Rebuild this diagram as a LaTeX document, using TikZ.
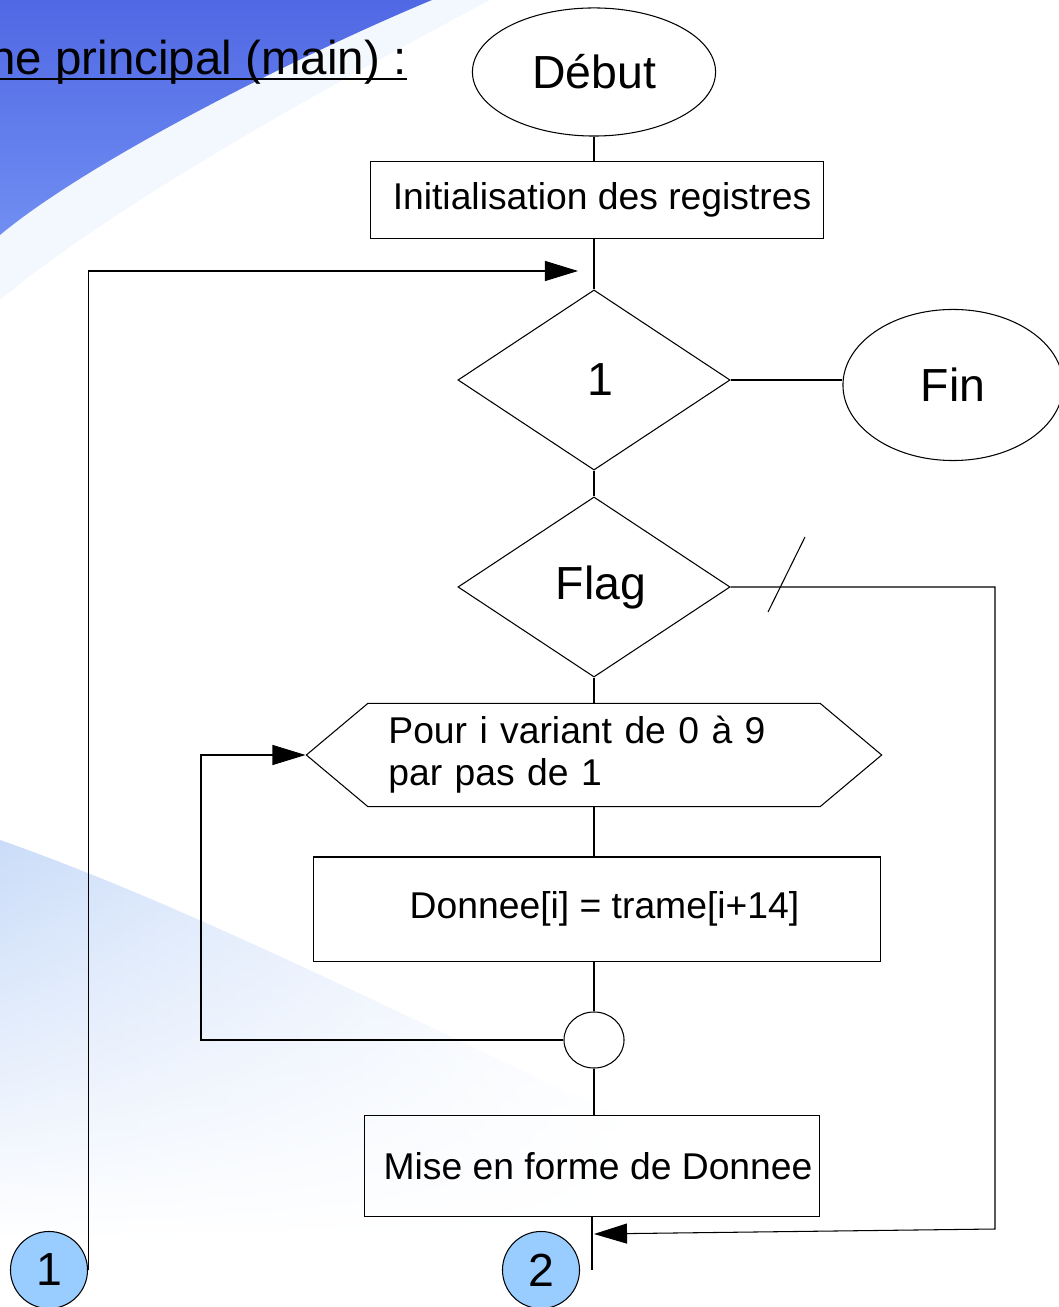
\documentclass[tikz,border=0pt]{standalone}
\usepackage{fontspec}
\setmainfont{Liberation Sans}
\usetikzlibrary{shapes.geometric,shapes.symbols,arrows.meta,positioning,fadings}

\definecolor{fondbleu}{RGB}{80,104,228}
\definecolor{fondmoyen}{RGB}{112,142,242}
\definecolor{fondclair}{RGB}{196,216,248}
\definecolor{renvoibleu}{RGB}{153,204,255}

\tikzfading[name=fondbas, top color=transparent!10, middle color=transparent!25, bottom color=transparent!100]

\begin{document}
\begin{tikzpicture}[x=0.01cm, y=-0.01cm, line width=0.3pt,
  petit/.style={font=\fontsize{10.6}{11.9}\selectfont},
  grand/.style={font=\fontsize{13.2}{15.8}\selectfont},
  boite/.style={rectangle, draw, petit, inner sep=0pt},
  test/.style={diamond, draw, grand, inner sep=0pt, minimum width=2.72cm, minimum height=1.8cm},
  bout/.style={ellipse, draw, grand, inner sep=0pt},
  renvoi/.style={circle, draw, fill=renvoibleu, grand, inner sep=0pt, minimum size=0.77cm},
  fleche/.style={-{Triangle[length=3.3mm, width=2mm]}}]

\useasboundingbox (0,0) rectangle (1058,1307);

% fond de la diapo
\fill[fondclair, opacity=0.2]
  (0,235) .. controls (90,160) and (300,55) .. (432,0) -- (490,0)
  .. controls (340,80) and (120,200) .. (0,300) -- cycle;
\shade[top color=fondbleu, bottom color=fondmoyen]
  (0,0) -- (432,0) .. controls (300,55) and (90,160) .. (0,235) -- cycle;
\shade[left color=fondclair, right color=white, path fading=fondbas]
  (0,840) .. controls (200,910) and (430,1030) .. (640,1125) -- (640,1240) -- (0,1240) -- cycle;

\node[font=\fontsize{13.5}{16}\selectfont, anchor=base east, inner sep=0pt] (titre) at (407,75) {ne principal (main) :};
\draw[line width=0.6pt] ([yshift=-0.04cm]titre.base west) -- ([yshift=-0.04cm]titre.base east);

\node[bout, minimum width=2.43cm, minimum height=1.28cm] (debut) at (594,72) {Début};
\node[boite, minimum width=4.53cm, minimum height=0.77cm] (init) at (597,200) {\hspace{0.1cm}Initialisation des registres};
\node[test] (un) at (594,380) {\hspace{0.12cm}1};
\node[bout, minimum width=2.2cm, minimum height=1.51cm] (fin) at (953,385) {Fin};
\node[test] (flag) at (594,587) {\hspace{0.14cm}Flag};
\node[signal, signal to=east and west, signal pointer angle=80, draw, petit, inner sep=0pt,
  text width=4.11cm, align=left, minimum width=5.75cm, minimum height=1.03cm] (boucle) at (594,755)
  {Pour i variant de 0 à 9\\par pas de 1};
\node[boite, minimum width=5.67cm, minimum height=1.04cm] (donnee) at (597,909) {\hspace{0.15cm}Donnee[i] = trame[i+14]};
\node[ellipse, draw, minimum width=0.6cm, minimum height=0.56cm] (jonction) at (594,1040) {};
\node[boite, minimum width=4.54cm, minimum height=1.01cm] (mise) at (592,1166) {\hspace{0.12cm}Mise en forme de Donnee};

\node[renvoi] (renvoiA) at (49,1270) {1};
\node[renvoi] (renvoiB) at (541,1270) {2};

\coordinate (entree) at (578,271);
\coordinate (coin) at (201,1040);
\coordinate (rcoin) at (995,1229);
\coordinate (retour) at (594,1234);
\coordinate (sortie) at (592,1270);

% liaisons
\draw (debut.south) -- (debut.south |- init.north);
\draw (un.north |- init.south) -- (un.north);
\draw (un.east) -- (un.east -| fin.west);
\draw (un.south) -- (flag.north);
\draw (flag.south) -- (boucle.north);
\draw (boucle.south) -- (boucle.south |- donnee.north);
\draw (jonction.north |- donnee.south) -- (jonction.north);
\draw (jonction.south) -- (jonction.south |- mise.north);
\draw (mise.south) -- (sortie);

\draw[fleche] (renvoiA.east) |- (entree);
\draw[fleche] (jonction.west) -- (coin) |- (boucle.west);
\draw[fleche] (flag.east) -| (rcoin) -- (retour);
\draw (768,612) -- (805,537);
\end{tikzpicture}
\end{document}
